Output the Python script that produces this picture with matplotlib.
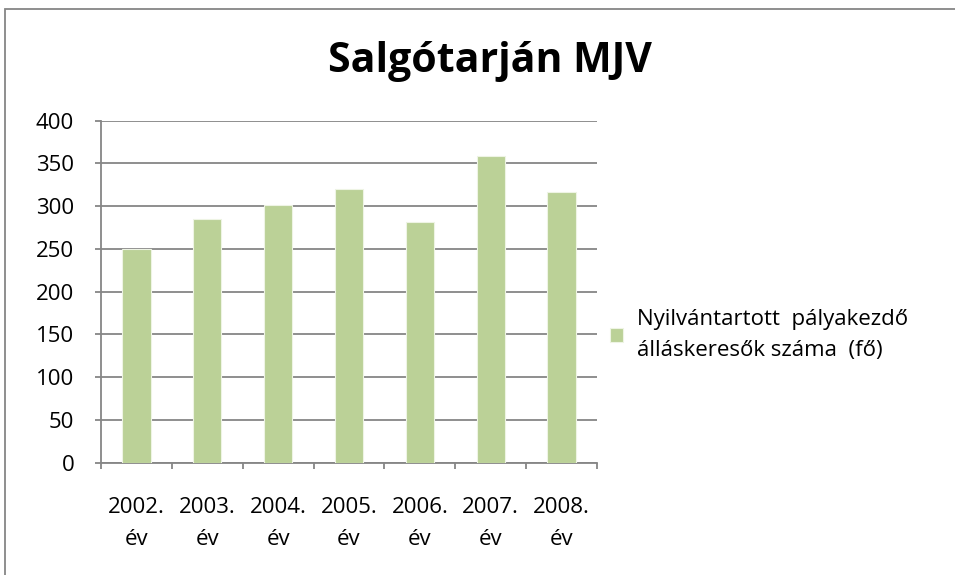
import matplotlib
matplotlib.use("Agg")
import matplotlib.pyplot as plt
from matplotlib.patches import Rectangle

# data
years = ["2002.\név", "2003.\név", "2004.\név", "2005.\név", "2006.\név", "2007.\név", "2008.\név"]
values = [250, 285, 301, 320, 282, 359, 317]
series_name = "Nyilvántartott  pályakezdő\nálláskeresők száma  (fő)"
y_ticks = [0, 50, 100, 150, 200, 250, 300, 350, 400]

plt.rcParams['font.family'] = ['Open Sans', 'DejaVu Sans']

fig = plt.figure(figsize=(9.55, 5.75), dpi=100)
ax = fig.add_axes([101/955, (575-462.7)/575, (597-101)/955, (462.7-120.7)/575])

# outer chart border
fig.patches.append(Rectangle((5/955, -0.2), 1.2, 1.2 - 8.5/575, transform=fig.transFigure,
                             fill=False, edgecolor='#868686', linewidth=1.3))

x = list(range(len(values)))
bar_color = '#bbd197'
ax.bar(x, values, width=0.4, color=bar_color, edgecolor='#eef4e4', linewidth=0.8,
       label=series_name, zorder=3)

ax.set_xlim(-0.5, len(values) - 0.5)
ax.set_ylim(0, 400)
ax.set_yticks(y_ticks)
ax.set_yticklabels([str(v) for v in y_ticks], fontsize=16)
ax.yaxis.grid(True, color='#868686', linewidth=1.3, zorder=0)

ax.set_xticks(x)
ax.set_xticklabels(years, fontsize=16, linespacing=1.65)
ax.tick_params(axis='x', length=0, pad=25)
ax.set_xticks([i - 0.5 for i in range(len(values) + 1)], minor=True)
ax.tick_params(axis='x', which='minor', length=4.3, color='#868686', width=1.3)
ax.tick_params(axis='y', length=4.3, color='#868686', width=1.3, pad=15)

for s in ['top', 'right']:
    ax.spines[s].set_visible(False)
for s in ['left', 'bottom']:
    ax.spines[s].set_color('#868686')
    ax.spines[s].set_linewidth(1.3)

fig.text(490/955, 1 - 62/575, "Salgótarján MJV", fontsize=29.5, fontweight='bold',
         ha='center', va='center')

leg = fig.legend(loc='center left', bbox_to_anchor=(590/955, 1 - 335/575), frameon=False,
                 fontsize=16, handlelength=0.6, handleheight=0.6, handletextpad=0.6)
for t in leg.get_texts():
    t.set_linespacing(1.65)

fig.savefig("out.png", dpi=100)
